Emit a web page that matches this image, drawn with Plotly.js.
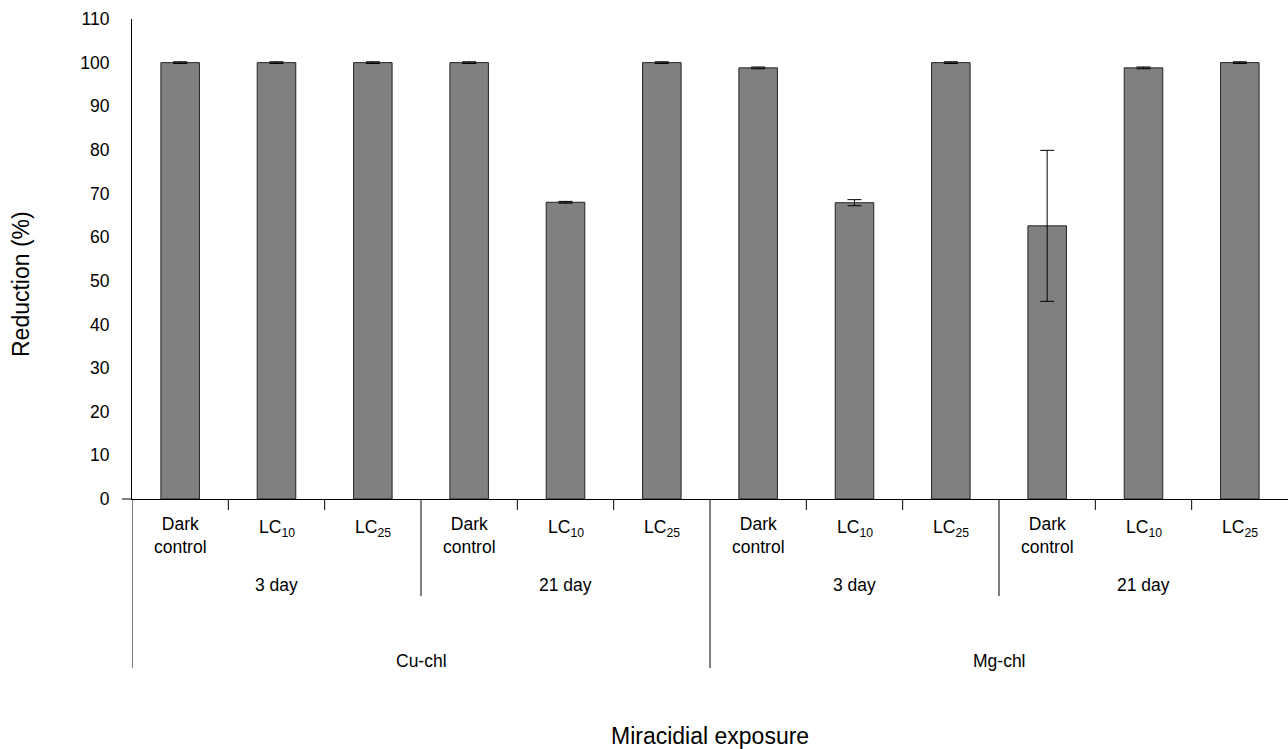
<!DOCTYPE html>
<html><head><meta charset="utf-8">
<script src="https://cdn.plot.ly/plotly-3.0.1.min.js"></script>
<style>body{margin:0;background:#fff}#c{width:1288px;height:749px}</style>
</head><body><div id="c"></div>
<script>
const chemicals = ['Cu-chl', 'Mg-chl'];
const days = ['3 day', '21 day'];
const treatments = ['Dark<br>control', 'LC<sub>10</sub>', 'LC<sub>25</sub>'];
const reduction = [100, 100, 100, 100, 68, 100, 98.8, 67.9, 100, 62.6, 98.8, 100];
const errors = [0.2, 0.2, 0.2, 0.2, 0.2, 0.2, 0.2, 0.7, 0.2, 17.3, 0.2, 0.2];
const yTicks = [0, 10, 20, 30, 40, 50, 60, 70, 80, 90, 100, 110];

const T = treatments.length, D = days.length;
const n = chemicals.length * D * T;
const xs = Array.from({length: n}, (_, i) => i);

const plotTop = 19, plotBottom = 499, H = plotBottom - plotTop;
const py = p => (plotBottom - p) / H;
const font = {family: 'Liberation Sans, Arial, sans-serif', color: '#000'};
const small = Object.assign({size: 17.5}, font);
const big = Object.assign({size: 23}, font);

const shapes = [], annotations = [];
for (let b = 0; b < n; b++) {
  const xb = b - 0.5;
  let endPx;
  if (b % (T * D) === 0) endPx = 668;
  else if (b % T === 0) endPx = 596;
  else endPx = 510;
  shapes.push({type: 'line', xref: 'x', yref: 'paper', x0: xb, x1: xb, y0: py(plotBottom), y1: py(endPx), line: {color: '#000', width: 1}});
}
shapes.push({type: 'line', xref: 'paper', yref: 'paper', x0: -10/1156, x1: 0, y0: 0, y1: 0, line: {color: '#000', width: 1}});

xs.forEach(i => {
  const t = treatments[i % T];
  const twoLine = t.indexOf('<br>') >= 0;
  annotations.push({xref: 'x', yref: 'paper', x: i, y: py(twoLine ? 535 : 528), text: t, showarrow: false,
    font: small, yanchor: 'middle', xanchor: 'center'});
});
for (let c = 0; c < chemicals.length; c++) {
  for (let d = 0; d < D; d++) {
    const center = (c * D + d) * T + (T - 1) / 2;
    annotations.push({xref: 'x', yref: 'paper', x: center, y: py(585), text: days[d], showarrow: false,
      font: small, yanchor: 'middle'});
  }
  const cc = c * D * T + (D * T - 1) / 2;
  annotations.push({xref: 'x', yref: 'paper', x: cc, y: py(661), text: chemicals[c], showarrow: false,
    font: small, yanchor: 'middle'});
}
annotations.push({xref: 'paper', yref: 'paper', x: 0.5, y: py(736), text: 'Miracidial exposure', showarrow: false,
  font: big, yanchor: 'middle'});
annotations.push({xref: 'paper', yref: 'paper', x: (21 - 132) / 1156, y: py(284), text: 'Reduction (%)', showarrow: false,
  textangle: -90, font: big, xanchor: 'center', yanchor: 'middle'});

const trace = {
  type: 'bar', x: xs, y: reduction, width: 0.4,
  marker: {color: '#808080', line: {color: '#222', width: 1}},
  error_y: {type: 'data', array: errors, visible: true, color: '#000', thickness: 1, width: 7},
  hoverinfo: 'skip'
};

const layout = {
  width: 1288, height: 749,
  margin: {l: 132, r: 0, t: plotTop, b: 749 - plotBottom},
  paper_bgcolor: '#fff', plot_bgcolor: '#fff',
  showlegend: false,
  xaxis: {range: [-0.5, n - 0.5], showticklabels: false, ticks: '', showgrid: false, zeroline: false,
    showline: true, linecolor: '#000', linewidth: 1, fixedrange: true},
  yaxis: {range: [0, 110], tickvals: yTicks, ticktext: yTicks.map(String), showgrid: false, zeroline: false,
    showline: true, linecolor: '#000', linewidth: 1, ticks: '', ticklabelstandoff: 18,
    tickfont: small, fixedrange: true},
  shapes: shapes, annotations: annotations
};
Plotly.newPlot('c', [trace], layout, {displayModeBar: false, staticPlot: true});
</script></body></html>
